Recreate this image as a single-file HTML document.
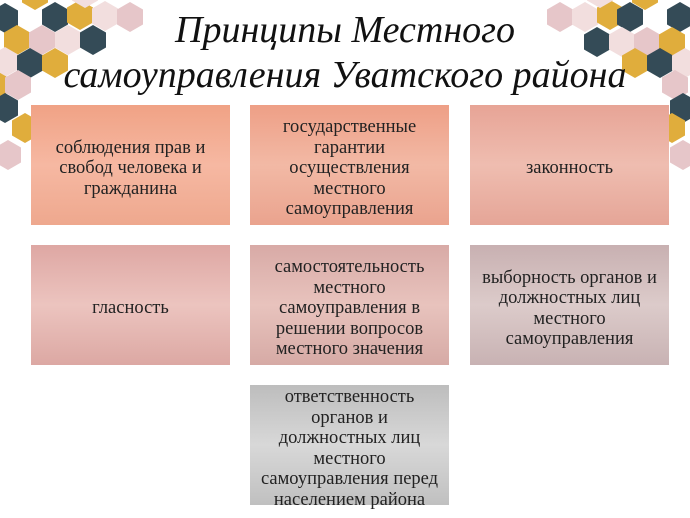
<!DOCTYPE html>
<html><head><meta charset="utf-8"><style>
body{margin:0;width:690px;height:518px;background:#fff;position:relative;overflow:hidden;font-family:"Liberation Serif",serif}
svg{position:absolute;left:0;top:0}
.t{position:absolute;left:0;width:690px;text-align:center;font-style:italic;font-size:38px;color:#111;line-height:44px}
.b{position:absolute;width:199px;height:120px;display:flex;align-items:center;justify-content:center;text-align:center;font-size:18.5px;line-height:20.5px;color:#222;box-sizing:border-box;padding:7px 7px 0 7px}
</style></head><body>
<svg width="690" height="518">
<defs><polygon id="h" points="0,-15 13,-7.5 13,7.5 0,15 -13,7.5 -13,-7.5"/></defs>
<g>
<use href="#h" x="5" y="18" fill="#344b57"/>
<use href="#h" x="55" y="17" fill="#344b57"/>
<use href="#h" x="80" y="15" fill="#e0ad3c"/>
<use href="#h" x="105" y="16" fill="#f2dede"/>
<use href="#h" x="130" y="17" fill="#e6c6c9"/>
<use href="#h" x="17" y="40" fill="#e0ad3c"/>
<use href="#h" x="42" y="40" fill="#e6c6c9"/>
<use href="#h" x="68" y="40" fill="#f2dede"/>
<use href="#h" x="93" y="40" fill="#344b57"/>
<use href="#h" x="5" y="62" fill="#f2dede"/>
<use href="#h" x="30" y="63" fill="#344b57"/>
<use href="#h" x="55" y="63" fill="#e0ad3c"/>
<use href="#h" x="-5" y="85" fill="#e0ad3c"/>
<use href="#h" x="18" y="85" fill="#e6c6c9"/>
<use href="#h" x="5" y="108" fill="#344b57"/>
<use href="#h" x="25" y="128" fill="#e0ad3c"/>
<use href="#h" x="8" y="155" fill="#e6c6c9"/>
<use href="#h" x="35" y="-5" fill="#e0ad3c"/>
<use href="#h" x="85" y="-7" fill="#f2dede"/>

<use href="#h" x="560" y="17" fill="#e6c6c9"/>
<use href="#h" x="585" y="17" fill="#f2dede"/>
<use href="#h" x="610" y="15" fill="#e0ad3c"/>
<use href="#h" x="630" y="17" fill="#344b57"/>
<use href="#h" x="680" y="17" fill="#344b57"/>
<use href="#h" x="597" y="42" fill="#344b57"/>
<use href="#h" x="622" y="42" fill="#f2dede"/>
<use href="#h" x="647" y="42" fill="#e6c6c9"/>
<use href="#h" x="672" y="42" fill="#e0ad3c"/>
<use href="#h" x="635" y="63" fill="#e0ad3c"/>
<use href="#h" x="660" y="63" fill="#344b57"/>
<use href="#h" x="685" y="63" fill="#f2dede"/>
<use href="#h" x="675" y="85" fill="#e6c6c9"/>
<use href="#h" x="683" y="108" fill="#344b57"/>
<use href="#h" x="672" y="128" fill="#e0ad3c"/>
<use href="#h" x="683" y="155" fill="#e6c6c9"/>
<use href="#h" x="645" y="-5" fill="#e0ad3c"/>
<use href="#h" x="600" y="-7" fill="#f2dede"/>
</g>
</svg>
<div class="t" style="top:8px">Принципы Местного</div>
<div class="t" style="top:53px">самоуправления Уватского района</div>

<div class="b" style="left:31px;top:105px;background:linear-gradient(#f0a285,#f6b8a2 50%,#eea88e)">соблюдения прав и свобод человека и гражданина</div>
<div class="b" style="left:250px;top:105px;background:linear-gradient(#ee9f86,#f2b9a5 50%,#eaa38e)">государственные гарантии осуществления местного самоуправления</div>
<div class="b" style="left:470px;top:105px;background:linear-gradient(#e7a496,#efbdb0 50%,#e5a597)">законность</div>

<div class="b" style="left:31px;top:245px;background:linear-gradient(#dea7a3,#ecc4bf 50%,#dca8a3)">гласность</div>
<div class="b" style="left:250px;top:245px;background:linear-gradient(#d8aaa6,#e8c3bd 50%,#d6aaa5)">самостоятельность местного самоуправления в решении вопросов местного значения</div>
<div class="b" style="left:470px;top:245px;background:linear-gradient(#c8b0b1,#dccbca 50%,#c8b2b3)">выборность органов и должностных лиц местного самоуправления</div>

<div class="b" style="left:250px;top:385px;background:linear-gradient(#bdbdbd,#d8d8d8 50%,#c0c0c0)">ответственность органов и должностных лиц местного самоуправления перед населением района</div>
</body></html>
